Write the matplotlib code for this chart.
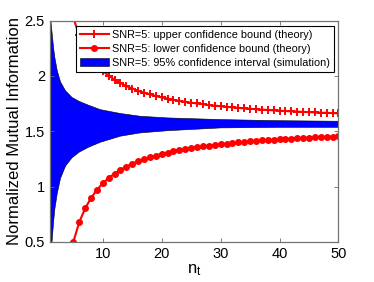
import numpy as np
import matplotlib
matplotlib.use('Agg')
import matplotlib.pyplot as plt

plt.rcParams['font.family'] = ['Liberation Sans', 'DejaVu Sans']
plt.rcParams['mathtext.default'] = 'regular'

## data
n_theory = list(range(5, 51))
upper_theory = [2.526, 2.366, 2.252, 2.166, 2.099, 2.046, 2.002, 1.966, 1.935, 1.909,
                1.886, 1.866, 1.848, 1.833, 1.819, 1.806, 1.795, 1.784, 1.775, 1.766,
                1.758, 1.751, 1.744, 1.737, 1.732, 1.726, 1.721, 1.716, 1.711, 1.707,
                1.703, 1.699, 1.696, 1.692, 1.689, 1.686, 1.683, 1.680, 1.678, 1.675,
                1.673, 1.670, 1.668, 1.666, 1.664, 1.662]
lower_theory = [0.500, 0.677, 0.803, 0.897, 0.971, 1.030, 1.078, 1.118, 1.152, 1.181,
                1.207, 1.229, 1.248, 1.266, 1.281, 1.295, 1.308, 1.319, 1.330, 1.339,
                1.348, 1.356, 1.364, 1.371, 1.377, 1.383, 1.389, 1.394, 1.399, 1.404,
                1.409, 1.413, 1.417, 1.421, 1.424, 1.428, 1.431, 1.434, 1.437, 1.440,
                1.442, 1.445, 1.447, 1.450, 1.452, 1.454]

n_sim = [1.0, 1.34, 1.56, 1.78, 2.2, 2.75, 3.6, 4.7, 5.9, 7.5, 9.5, 12.9, 16.3, 21, 30, 40, 50]
sim_hi = [2.56, 2.38, 2.26, 2.17, 2.05, 1.95, 1.87, 1.81, 1.775, 1.74, 1.70, 1.665, 1.64,
          1.625, 1.61, 1.60, 1.595]
sim_lo = [0.30, 0.53, 0.68, 0.80, 0.945, 1.08, 1.19, 1.265, 1.315, 1.36, 1.405, 1.46, 1.49,
          1.51, 1.535, 1.54, 1.54]

xticks = [10, 20, 30, 40, 50]
yticks = [0.5, 1, 1.5, 2, 2.5]
ytick_labels = ['0.5', '1', '1.5', '2', '2.5']

fig = plt.figure(figsize=(3.74, 2.82), dpi=100)
ax = fig.add_axes([0.133, 0.142, 0.772, 0.785])

ax.plot(n_theory, upper_theory, color='red', lw=1.5, marker='+', ms=5.5, mew=1.4,
        label='SNR=5: upper confidence bound (theory)')
ax.plot(n_theory, lower_theory, color='red', lw=1.5, marker='o', ms=4,
        label='SNR=5: lower confidence bound (theory)')
ax.fill_between(n_sim, sim_lo, sim_hi, facecolor='#0000ff', edgecolor='black', lw=0.4,
                label='SNR=5: 95% confidence interval (simulation)')

ax.set_xlim(1, 50)
ax.set_ylim(0.5, 2.5)
ax.set_xticks(xticks)
ax.set_yticks(yticks)
ax.set_yticklabels(ytick_labels)
ax.tick_params(direction='in', length=3, width=0.6, top=True, right=True,
               labelsize=10.5, color='0.4')
for s in ax.spines.values():
    s.set_color('0.45')
    s.set_linewidth(0.9)

ax.set_xlabel('n$_t$', fontsize=12, labelpad=1)
ax.set_ylabel('Normalized Mutual Information', fontsize=12, labelpad=2)

leg = ax.legend(loc='upper right', bbox_to_anchor=(0.985, 0.976), borderaxespad=0,
                fontsize=7.8, handlelength=2.7, handletextpad=0.3, labelspacing=0.36,
                borderpad=0.38, fancybox=False, framealpha=1, edgecolor='black')
leg.get_frame().set_linewidth(0.8)

plt.savefig('out.png', dpi=100)
